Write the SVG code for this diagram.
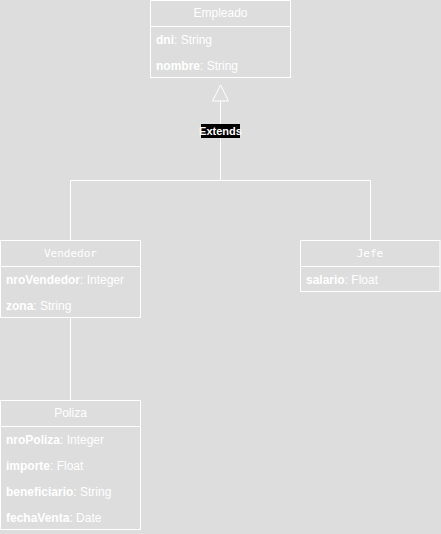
<svg xmlns="http://www.w3.org/2000/svg" width="441" height="534" viewBox="0 0 441 534">
<style>
.box{fill:none;stroke:#fff;stroke-width:1}
.ln{fill:none;stroke:#fff;stroke-width:1}
.hd{font-family:"Liberation Sans",Arial,sans-serif;font-size:12px;fill:#fff;text-anchor:middle}
.hm{font-family:"DejaVu Sans Mono","Liberation Mono",monospace;font-size:11px;fill:#fff;text-anchor:middle}
.at{font-family:"Liberation Sans",Arial,sans-serif;font-size:12px;fill:#fff}
.at tspan.n{font-weight:bold}
</style>
<rect width="441" height="534" fill="#dddddd"/>
<g id="connectors">
<path class="ln" d="M220.5,101 V180.5 M70.5,240 V180.5 H370.5 V240"/>
<polygon points="220.5,85 212.5,101 228.5,101" fill="none" stroke="#fff"/>
<path class="ln" d="M70.5,318 V400"/>
<rect x="201" y="124" width="39" height="14" fill="#000"/>
<text x="220.5" y="135" class="hd" style="font-size:11px;font-weight:bold">Extends</text>
</g>
<g id="Empleado">
<rect class="box" x="150.5" y="0.5" width="140" height="77"/>
<line class="ln" x1="150.5" y1="26.5" x2="290.5" y2="26.5"/>
<text class="hd" x="220.5" y="17">Empleado</text>
<text class="at" x="156" y="44"><tspan class="n">dni</tspan>: String</text>
<text class="at" x="156" y="70"><tspan class="n">nombre</tspan>: String</text>
</g>
<g id="Vendedor">
<rect class="box" x="0.5" y="240.5" width="140" height="77"/>
<line class="ln" x1="0.5" y1="266.5" x2="140.5" y2="266.5"/>
<text class="hm" x="70.5" y="257">Vendedor</text>
<text class="at" x="6" y="284"><tspan class="n">nroVendedor</tspan>: Integer</text>
<text class="at" x="6" y="310"><tspan class="n">zona</tspan>: String</text>
</g>
<g id="Jefe">
<rect class="box" x="300.5" y="240.5" width="139.5" height="51"/>
<line class="ln" x1="300.5" y1="266.5" x2="440" y2="266.5"/>
<text class="hm" x="370" y="257">Jefe</text>
<text class="at" x="306" y="284"><tspan class="n">salario</tspan>: Float</text>
</g>
<g id="Poliza">
<rect class="box" x="0.5" y="400.5" width="140" height="129"/>
<line class="ln" x1="0.5" y1="426.5" x2="140.5" y2="426.5"/>
<text class="hd" x="70.5" y="417">Poliza</text>
<text class="at" x="6" y="444"><tspan class="n">nroPoliza</tspan>: Integer</text>
<text class="at" x="6" y="470"><tspan class="n">importe</tspan>: Float</text>
<text class="at" x="6" y="496"><tspan class="n">beneficiario</tspan>: String</text>
<text class="at" x="6" y="522"><tspan class="n">fechaVenta</tspan>: Date</text>
</g>
</svg>
